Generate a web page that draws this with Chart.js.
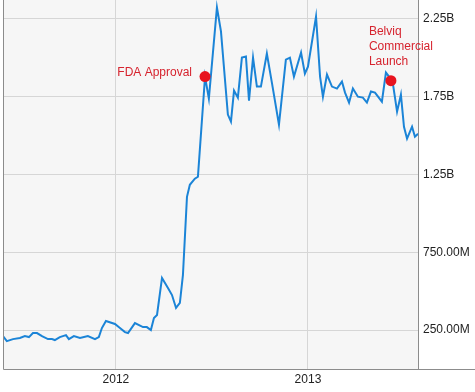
<!DOCTYPE html>
<html>
<head>
<meta charset="utf-8">
<script src="https://cdn.jsdelivr.net/npm/chart.js@4.4.1/dist/chart.umd.min.js"></script>
<style>
  html, body { margin: 0; padding: 0; background: #ffffff; }
  #chart { display: block; }
</style>
</head>
<body>
<canvas id="chart" width="475" height="392"></canvas>
<script>
// Weekly market value (x in decimal years, y in billions)
const weekDates = [
  2011.412, 2011.432, 2011.464, 2011.500, 2011.526, 2011.547, 2011.568, 2011.589,
  2011.615, 2011.646, 2011.667, 2011.682, 2011.708, 2011.740, 2011.755, 2011.781,
  2011.813, 2011.854, 2011.891, 2011.911, 2011.927, 2011.948, 2011.995, 2012.021,
  2012.047, 2012.063, 2012.099, 2012.141, 2012.161, 2012.182, 2012.198, 2012.214,
  2012.240, 2012.271, 2012.292, 2012.313, 2012.333, 2012.349, 2012.370, 2012.385,
  2012.411, 2012.427, 2012.464, 2012.484, 2012.526, 2012.547, 2012.583, 2012.599,
  2012.615, 2012.635, 2012.656, 2012.677, 2012.693, 2012.714, 2012.734, 2012.755,
  2012.786, 2012.813, 2012.849, 2012.885, 2012.906, 2012.927, 2012.964, 2012.984,
  2013.000, 2013.042, 2013.063, 2013.078, 2013.099, 2013.125, 2013.151, 2013.177,
  2013.193, 2013.214, 2013.234, 2013.260, 2013.286, 2013.307, 2013.328, 2013.349,
  2013.385, 2013.406, 2013.422, 2013.443, 2013.464, 2013.484, 2013.500, 2013.516,
  2013.542, 2013.557, 2013.573
];
const marketValue = [
  0.211, 0.179, 0.192, 0.199, 0.211, 0.205, 0.231, 0.231,
  0.211, 0.192, 0.192, 0.186, 0.205, 0.218, 0.192, 0.211,
  0.199, 0.211, 0.192, 0.205, 0.263, 0.308, 0.289, 0.263,
  0.237, 0.231, 0.295, 0.269, 0.269, 0.250, 0.327, 0.347,
  0.585, 0.520, 0.475, 0.392, 0.424, 0.604, 1.106, 1.183,
  1.222, 1.235, 1.878, 1.737, 2.322, 2.168, 1.634, 1.589,
  1.788, 1.743, 2.000, 2.007, 1.724, 2.000, 1.814, 1.814,
  2.026, 1.833, 1.569, 1.987, 2.000, 1.878, 2.033, 1.897,
  1.942, 2.264, 1.878, 1.749, 1.891, 1.814, 1.801, 1.846,
  1.775, 1.711, 1.801, 1.749, 1.743, 1.711, 1.782, 1.775,
  1.717, 1.904, 1.878, 1.827, 1.653, 1.762, 1.556, 1.479,
  1.556, 1.492, 1.511
];

// Axis ticks
const xTickValues = [2012, 2013];
const xTickLabels = ['2012', '2013'];
const yTickValues = [0.25, 0.75, 1.25, 1.75, 2.25];
const yTickLabels = ['250.00M', '750.00M', '1.25B', '1.75B', '2.25B'];

// Event markers
const eventNames = [['FDA Approval'], ['Belviq', 'Commercial', 'Launch']];
const eventDates = [2012.464, 2013.432];
const eventValues = [1.878, 1.852];

const COLORS = {
  line: '#1b84d7',
  plotBg: '#f6f6f6',
  grid: '#d6d6d6',
  border: '#8c8c8c',
  text: '#222222',
  event: '#e8141f',
  eventText: '#d6232e'
};
const FONT = 'Arial, "Liberation Sans", sans-serif';

// Plot background, frame and event markers
const chartDecor = {
  id: 'chartDecor',
  beforeDraw(chart) {
    const { ctx, chartArea: a } = chart;
    ctx.save();
    ctx.fillStyle = COLORS.plotBg;
    ctx.fillRect(a.left, a.top, a.right - a.left, a.bottom - a.top);
    ctx.restore();
  },
  afterDraw(chart) {
    const { ctx, chartArea: a } = chart;
    const xs = chart.scales.x;
    const ys = chart.scales.y;
    ctx.save();
    ctx.strokeStyle = COLORS.border;
    ctx.lineWidth = 1;
    ctx.beginPath();
    ctx.moveTo(a.left + 0.5, a.top);
    ctx.lineTo(a.left + 0.5, a.bottom + 0.5);
    ctx.lineTo(chart.width, a.bottom + 0.5);
    ctx.moveTo(a.right + 0.5, a.top);
    ctx.lineTo(a.right + 0.5, a.bottom + 0.5);
    ctx.stroke();

    ctx.font = '12px ' + FONT;
    ctx.textBaseline = 'middle';
    eventNames.forEach((lines, i) => {
      const px = xs.getPixelForValue(eventDates[i]);
      const py = ys.getPixelForValue(eventValues[i]);
      ctx.fillStyle = COLORS.event;
      ctx.beginPath();
      ctx.arc(px, py, 5.5, 0, Math.PI * 2);
      ctx.fill();
      ctx.fillStyle = COLORS.eventText;
      if (lines.length === 1) {
        ctx.textAlign = 'right';
        ctx.fillText(lines[0], px - 13, py - 4);
      } else {
        ctx.textAlign = 'left';
        lines.forEach((t, j) => {
          ctx.fillText(t, px - 22, py - 49 + j * 15);
        });
      }
    });
    ctx.restore();
  }
};

const points = weekDates.map((d, i) => ({ x: d, y: marketValue[i] }));

new Chart(document.getElementById('chart'), {
  type: 'line',
  data: {
    datasets: [{
      data: points,
      borderColor: COLORS.line,
      borderWidth: 2,
      pointRadius: 0,
      tension: 0,
      fill: false
    }]
  },
  options: {
    responsive: false,
    animation: false,
    layout: { padding: { left: 3, top: 0, right: 0, bottom: 0 } },
    plugins: {
      legend: { display: false },
      tooltip: { enabled: false }
    },
    scales: {
      x: {
        type: 'linear',
        min: weekDates[0],
        max: weekDates[weekDates.length - 1],
        afterBuildTicks: s => { s.ticks = xTickValues.map(v => ({ value: v })); },
        afterFit: s => { s.height = 23; s.paddingLeft = 0; s.paddingRight = 0; },
        border: { display: false },
        grid: { color: COLORS.grid, drawTicks: false },
        ticks: {
          padding: 3,
          color: COLORS.text,
          font: { family: FONT, size: 12 },
          maxRotation: 0,
          callback: v => xTickLabels[xTickValues.indexOf(v)]
        }
      },
      y: {
        position: 'right',
        min: 0,
        max: 2.37,
        afterBuildTicks: s => { s.ticks = yTickValues.map(v => ({ value: v })); },
        afterFit: s => { s.width = 57; s.paddingTop = 0; s.paddingBottom = 0; },
        border: { display: false },
        grid: { color: COLORS.grid, drawTicks: false },
        ticks: {
          padding: 5,
          color: COLORS.text,
          font: { family: FONT, size: 12 },
          callback: v => yTickLabels[yTickValues.indexOf(v)]
        }
      }
    }
  },
  plugins: [chartDecor]
});
</script>
</body>
</html>
